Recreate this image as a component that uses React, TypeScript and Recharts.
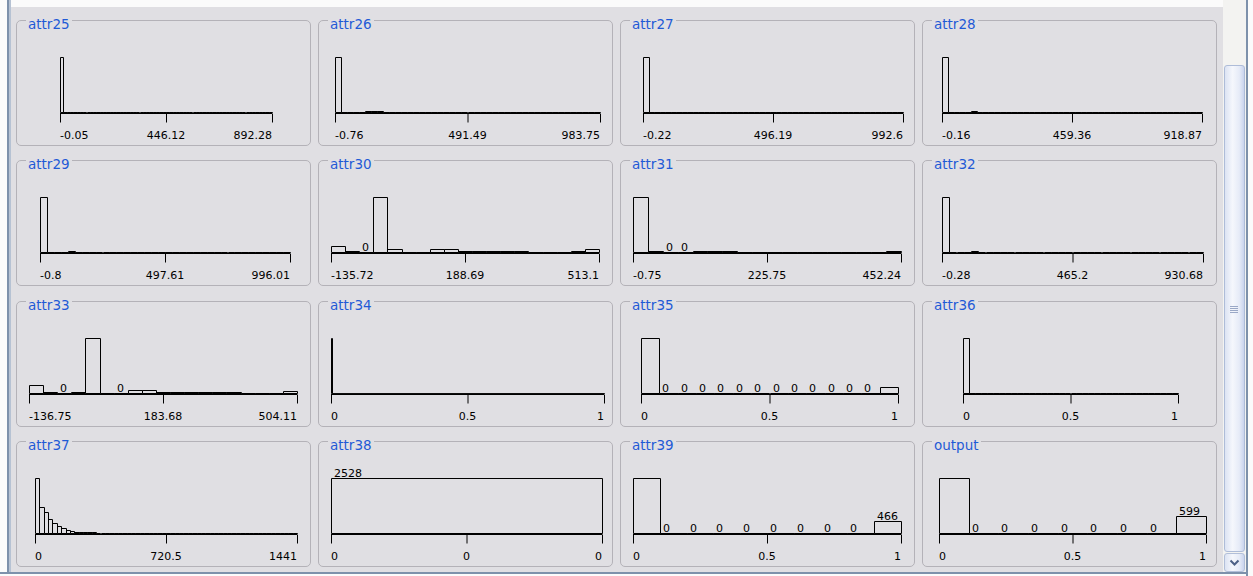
import React from 'react';
import { BarChart, Bar, XAxis, YAxis } from 'recharts';

// ---- data ----
const panelNames = [
  'attr25', 'attr26', 'attr27', 'attr28',
  'attr29', 'attr30', 'attr31', 'attr32',
  'attr33', 'attr34', 'attr35', 'attr36',
  'attr37', 'attr38', 'attr39', 'output',
];

// min / mid / max labels under each histogram
const tickLabels = [
  ['-0.05', '446.12', '892.28'],
  ['-0.76', '491.49', '983.75'],
  ['-0.22', '496.19', '992.6'],
  ['-0.16', '459.36', '918.87'],
  ['-0.8', '497.61', '996.01'],
  ['-135.72', '188.69', '513.1'],
  ['-0.75', '225.75', '452.24'],
  ['-0.28', '465.2', '930.68'],
  ['-136.75', '183.68', '504.11'],
  ['0', '0.5', '1'],
  ['0', '0.5', '1'],
  ['0', '0.5', '1'],
  ['0', '720.5', '1441'],
  ['0', '0', '0'],
  ['0', '0.5', '1'],
  ['0', '0.5', '1'],
];

// number of bins in each histogram
const binCounts = [64, 44, 47, 45, 36, 19, 18, 36, 19, 273, 14, 36, 60, 1, 10, 9];

// counts of the leading bins; bins past the end of a list are empty
const attr25Counts = [2524, 3, 1];
const attr26Counts = [2398, 3, 0, 0, 0, 44, 38, 27, 18];
const attr27Counts = [2526, 2];
const attr28Counts = [2488, 2, 0, 0, 0, 38];
const attr29Counts = [2480, 3, 0, 0, 45];
const attr30Counts = [214, 20, 0, 2048, 115, 18, 14, 112, 108, 42, 40, 38, 40, 38, 12, 11, 10, 40, 110];
const attr31Counts = [2320, 22, 0, 0, 40, 42, 38, 12, 11, 10, 12, 11, 10, 12, 10, 11, 10, 41];
const attr32Counts = [2486, 2, 0, 0, 40];
const attr33Counts = [290, 40, 0, 22, 2070, 16, 0, 100, 98, 40, 40, 40, 40, 40, 40, 14, 12, 11, 94];
const attr34Counts = [2527];
const attr35Counts = [2279, 0, 0, 0, 0, 0, 0, 0, 0, 0, 0, 0, 0, 249];
const attr36Counts = [2527, 1];
const attr37Counts = [900, 432, 342, 225, 167, 122, 84, 55, 39, 20, 18, 17, 16, 15, 3, 2, 1];
const attr38Counts = [2528];
const attr39Counts = [2062, 0, 0, 0, 0, 0, 0, 0, 0, 466];
const outputCounts = [1929, 0, 0, 0, 0, 0, 0, 0, 599];

// bins whose count is printed above the bar
const labelBins = [
  [], [], [], [],
  [], [2], [2, 3], [],
  [2, 6], [], [1, 2, 3, 4, 5, 6, 7, 8, 9, 10, 11, 12], [],
  [], [0], [1, 2, 3, 4, 5, 6, 7, 8, 9], [1, 2, 3, 4, 5, 6, 7, 8],
];

const histCounts = [
  attr25Counts, attr26Counts, attr27Counts, attr28Counts,
  attr29Counts, attr30Counts, attr31Counts, attr32Counts,
  attr33Counts, attr34Counts, attr35Counts, attr36Counts,
  attr37Counts, attr38Counts, attr39Counts, outputCounts,
];

// ---- layout ----
const BG = '#e0dfe3';
const COL_X = [16, 318, 620, 922];
const ROW_Y = [20, 160, 301, 441];
const PANEL_W = 295;
const PANEL_H = 126;
const AXIS_Y = 93;
const BAR_MAX = 55;
// left / right pixel of each histogram axis
const AXIS_SPANS = [
  [60, 272], [335, 600], [643, 903], [942, 1202],
  [40, 290], [331, 599], [633, 901], [942, 1203],
  [29, 297], [331, 604], [641, 898], [963, 1178],
  [35, 297], [331, 602], [633, 901], [939, 1206],
];

const labelFont = '"DejaVu Sans", sans-serif';
const anchors = ['start', 'middle', 'end'];

function buildBins(p: number) {
  const counts = histCounts[p];
  const n = binCounts[p];
  return Array.from({ length: n }, (_, i) => ({
    bin: i,
    pos: (2 * i) / n, // bin start on the 0..2 min/mid/max scale
    count: counts[i] ?? 0,
    showLabel: labelBins[p].includes(i),
  }));
}

const HistBin = (props: any) => {
  const { x, y, width, height, payload } = props;
  const l = Math.round(x) + 0.5;
  const r = Math.round(x + width) + 0.5;
  const b = Math.round(y + height) - 0.5;
  const t = Math.min(Math.round(y) - 0.5, b);
  return (
    <g>
      <path d={`M${l},${b}L${l},${t}L${r},${t}L${r},${b}Z`} fill="none" stroke="#000" strokeWidth={1} />
      {payload.showLabel && (
        <text x={Math.round(x) + 3} y={t - 2} fontSize={11} fontFamily={labelFont} fill="#000">
          {payload.count}
        </text>
      )}
    </g>
  );
};

const Histogram = ({ p }: { p: number }) => {
  const left = COL_X[p % 4];
  const top = ROW_Y[Math.floor(p / 4)];
  const [a0, a1] = AXIS_SPANS[p];
  const binW = (a1 - a0) / binCounts[p] - 0.001;
  const labels = tickLabels[p];
  return (
    <>
      <div
        style={{
          position: 'absolute', left, top, width: PANEL_W - 2, height: PANEL_H - 2,
          border: '1px solid #b4b2b8', borderRadius: 5,
        }}
      />
      <div
        style={{
          position: 'absolute', left: left + 10, top: top - 4, padding: '0 2px', background: BG,
          color: '#1f5ad6', fontFamily: '"DejaVu Sans", sans-serif', fontSize: 13.5, lineHeight: '16px',
        }}
      >
        {panelNames[p]}
      </div>
      <div style={{ position: 'absolute', left, top }}>
        <BarChart
          width={PANEL_W}
          height={PANEL_H}
          data={buildBins(p)}
          margin={{ top: AXIS_Y - BAR_MAX, bottom: PANEL_H - AXIS_Y - 30, left: a0 - left, right: left + PANEL_W - a1 }}
          barCategoryGap={0}
          barGap={0}
        >
          <XAxis xAxisId="bins" dataKey="bin" hide height={0} />
          <XAxis
            xAxisId="val"
            dataKey="pos"
            type="number"
            domain={[0, 2]}
            ticks={[0, 1, 2]}
            allowDataOverflow
            interval={0}
            height={30}
            tickSize={9}
            axisLine={{ stroke: '#000', transform: 'translate(0 0.5)' }}
            tickLine={{ stroke: '#000', transform: 'translate(0.5 0.5)' }}
            tick={(tp: any) => (
              <text
                x={tp.x}
                y={tp.y + 15}
                textAnchor={anchors[tp.index]}
                fontSize={11}
                fontFamily={labelFont}
                fill="#000"
              >
                {labels[tp.index]}
              </text>
            )}
          />
          <YAxis hide domain={[0, 'dataMax']} />
          <Bar xAxisId="bins" dataKey="count" barSize={binW} shape={HistBin} isAnimationActive={false} />
        </BarChart>
      </div>
    </>
  );
};

export default function App() {
  return (
    <div style={{ position: 'absolute', left: 0, top: 0, width: 1253, height: 576, background: BG, overflow: 'hidden' }}>
      {/* window frame */}
      <div style={{ position: 'absolute', left: 0, top: 0, width: 1253, height: 7, background: '#fbfbfb' }} />
      <div style={{ position: 'absolute', left: 0, top: 0, width: 7, height: 576, background: '#fbfbfb' }} />
      <div style={{ position: 'absolute', left: 7, top: 0, width: 2, height: 576, background: '#7d91ab' }} />
      <div style={{ position: 'absolute', left: 9, top: 0, width: 2, height: 576, background: '#b6c2d3' }} />
      <div style={{ position: 'absolute', left: 0, top: 572, width: 1253, height: 2, background: '#7d91ab' }} />
      <div style={{ position: 'absolute', left: 0, top: 574, width: 1253, height: 2, background: '#fbfbfb' }} />
      <div style={{ position: 'absolute', left: 1246, top: 0, width: 2, height: 576, background: '#7d91ab' }} />
      <div style={{ position: 'absolute', left: 1248, top: 0, width: 5, height: 576, background: '#fbfbfb' }} />
      {/* scrollbar */}
      <div style={{ position: 'absolute', left: 1223, top: 0, width: 23, height: 572, background: '#f3f3f1' }} />
      <div
        style={{
          position: 'absolute', left: 1224, top: 65, width: 19, height: 485, border: '1px solid #aebcd8', borderRadius: 3,
          background: 'linear-gradient(to right, #dce3f3, #f5f7fc 40%, #e6ebf7 75%, #c9d4ee)',
        }}
      />
      {[0, 2, 4, 6].map((d) => (
        <div key={d} style={{ position: 'absolute', left: 1230, top: 306 + d, width: 8, height: 1, background: '#9aa8c6' }} />
      ))}
      <div
        style={{
          position: 'absolute', left: 1224, top: 553, width: 19, height: 17, border: '1px solid #b2bfd9', borderRadius: 3,
          background: 'linear-gradient(to right, #dce3f3, #f5f7fc 40%, #e6ebf7 75%, #c9d4ee)',
        }}
      >
        <svg width={19} height={17} style={{ position: 'absolute', left: 0, top: 0 }}>
          <path d="M5.5,6.5L9.5,10.5L13.5,6.5" fill="none" stroke="#4d6185" strokeWidth={2} />
        </svg>
      </div>
      {panelNames.map((_, p) => (
        <Histogram key={p} p={p} />
      ))}
    </div>
  );
}
